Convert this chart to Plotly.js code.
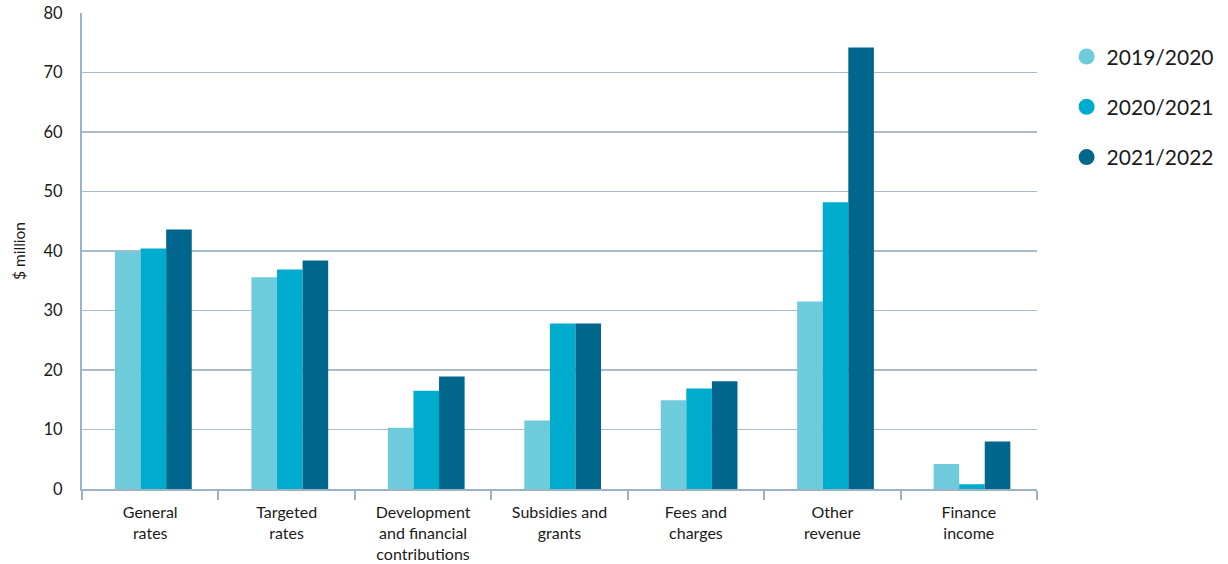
<!DOCTYPE html>
<html>
<head>
<meta charset="utf-8">
<script src="https://cdn.plot.ly/plotly-3.0.1.min.js"></script>
<style>html,body{margin:0;padding:0;background:#fff;}#chart{width:1228px;height:564px;}</style>
</head>
<body>
<div id="chart"></div>
<script>
const categories = ["General<br>rates", "Targeted<br>rates", "Development<br>and financial<br>contributions", "Subsidies and<br>grants", "Fees and<br>charges", "Other<br>revenue", "Finance<br>income"];
const seriesNames = ["2019/2020", "2020/2021", "2021/2022"];
const values2019 = [39.9, 35.6, 10.3, 11.5, 14.9, 31.5, 4.2];
const values2020 = [40.4, 36.9, 16.5, 27.8, 16.9, 48.2, 0.8];
const values2021 = [43.6, 38.4, 18.9, 27.8, 18.1, 74.2, 8.0];
const yTicks = [0, 10, 20, 30, 40, 50, 60, 70, 80];
const colors = ["#6dcbdb", "#00acce", "#00668c"];

const allValues = [values2019, values2020, values2021];
const barWidth = 0.1875;
const barOffsets = [-0.258, -0.0705, 0.117];
const traces = [];
allValues.forEach((vals, i) => {
  traces.push({
    type: "bar", x: categories, y: vals, name: seriesNames[i],
    width: barWidth, offset: barOffsets[i],
    marker: {color: colors[i]}, showlegend: false, hoverinfo: "y"
  });
});
seriesNames.forEach((n, i) => {
  traces.push({
    type: "scatter", mode: "markers", x: [null], y: [null], name: n,
    legendgroup: "g" + i,
    marker: {color: colors[i], size: 17, symbol: "circle"}, showlegend: true
  });
});

const layout = {
  width: 1228, height: 564,
  margin: {l: 82, r: 191, t: 13, b: 75, autoexpand: false},
  paper_bgcolor: "#fff", plot_bgcolor: "#fff",
  font: {family: "Lato, 'Noto Sans', sans-serif", color: "#1a1a1a", size: 16},
  barmode: "overlay",
  xaxis: {
    type: "category", showgrid: false, zeroline: false,
    showline: true, linecolor: "#9cb3c3", linewidth: 2,
    ticks: "outside", tickson: "boundaries", ticklen: 9, tickwidth: 2, tickcolor: "#9cb3c3",
    ticklabelstandoff: 8,
    tickfont: {size: 16, color: "#1a1a1a"}, automargin: false
  },
  yaxis: {
    range: [0, 80], tickvals: yTicks, ticktext: yTicks.map(String),
    showgrid: true, gridcolor: "#a9bcc8", gridwidth: 1.5,
    zeroline: false, showline: true, linecolor: "#9cb3c3", linewidth: 2,
    ticks: "", ticklabelstandoff: 14,
    tickfont: {size: 16.5, color: "#1a1a1a"},
    title: {text: "$ million", font: {size: 15.5, color: "#1a1a1a"}, standoff: 14},
    automargin: false
  },
  legend: {
    x: 1.031, y: 0.951, xanchor: "left", yanchor: "top",
    font: {size: 21, color: "#1a1a1a"}, tracegroupgap: 20,
    itemwidth: 30, bgcolor: "rgba(0,0,0,0)"
  },
  showlegend: true
};

Plotly.newPlot("chart", traces, layout, {displayModeBar: false, staticPlot: true});
</script>
</body>
</html>
